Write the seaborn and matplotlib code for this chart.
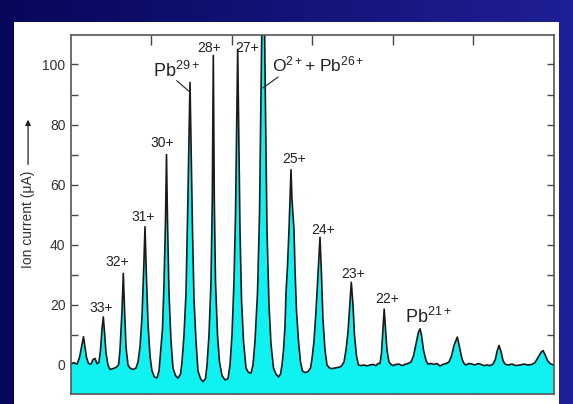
import numpy as np
import seaborn as sns
import matplotlib.pyplot as plt
from matplotlib.patches import Rectangle
from matplotlib.colors import LinearSegmentedColormap

# scan position (arb. units, no labels on this axis) and ion current in uA
scan = [0, 3, 6, 8.5, 10.5, 12.5, 14, 15.5, 17.5, 20, 22, 24, 26, 28, 29.5, 31, 32.3, 33.5, 35, 37,
        39, 42, 45, 47.5, 49, 51, 52.3, 53.5, 55, 57, 59, 62, 65, 67, 69, 71, 72.8, 74, 75.2, 77,
        79, 81, 83.5, 86, 88, 89.5, 91.5, 93, 94.5, 95.5, 96.5, 98, 100, 102, 104.5, 107, 109.5, 111,
        113, 115, 116.5, 118, 119, 120, 121.5, 123, 125, 127, 129.5, 132, 134.5, 136, 138, 140, 141.3,
        142.3, 143.3, 144.5, 146.5, 148.5, 151, 154, 157, 159, 161, 163, 164.5, 165.7, 166.7, 167.7,
        169, 170.5, 172.5, 175, 177.5, 180, 182, 184, 186.5, 188.5, 190, 191.3, 192.3, 193.3, 194.5,
        196, 198, 200, 202.5, 205, 207.5, 209.5, 211, 212.5, 214, 215, 216.5, 218, 219.3, 220, 221,
        223, 224, 225.5, 227.5, 229.5, 231.5, 234, 237, 239.5, 241, 243, 245, 247, 249, 250.5, 252,
        254, 256, 258.5, 261, 264, 267, 270, 273, 275, 277, 278.8, 280.3, 282, 283.5, 285.5, 287.5,
        290, 293, 296, 299, 302, 305, 307, 309, 310.5, 312, 313.2, 314.5, 316, 318, 320, 322, 325,
        328, 331, 334, 337, 340, 342.5, 345, 347.5, 349, 350.5, 352.5, 355, 357, 360, 363, 366, 369,
        372, 375, 378, 380.5, 383, 386.3, 388.5, 391, 393, 395, 398, 401, 404, 407, 410, 413, 416,
        419, 422, 424.5, 426, 428, 430, 432, 434, 437, 441, 445, 449, 453, 457, 461, 464, 467, 470,
        472, 474, 476.5, 479, 482.5]
current = [0.3, 0.8, 0.2, 2.5, 6, 9.4, 6, 2.5, 0.5, 0.3, 1.8, 2.2, 0.4, 1, 5, 12, 16, 11, 4, 0,
           -1.5, -1.2, -0.8, 0, 5, 18, 30.5, 19, 6, 0, -1, -1.5, -1, 1, 6, 16, 33, 46, 32, 14,
           3, -2, -4, -4.3, -2, 4, 12, 27, 48, 70, 48, 24, 8, -1, -3.5, -4.4, -3, 1,
           10, 24, 48, 75, 94, 75, 45, 22, 8, -2, -4.5, -5.6, -4.5, 0, 10, 28, 55,
           103, 55, 28, 10, 1, -3.5, -5, -4.5, 0, 10, 28, 50, 80, 105, 80,
           45, 22, 8, -1, -2.5, -2.7, 0, 8, 24, 50, 90, 125, 130, 120, 85,
           45, 20, 7, -1, -3, -4, -3, 0, 5, 13, 24, 33, 45, 58, 65, 55,
           45, 32, 18, 8, 1, -2, -2.5, -2.2, -1, 2, 8, 18, 30, 42.5, 30, 15,
           5, 0, -1, -1.2, -1, -0.8, -0.5, 1, 5, 11, 20, 27.5, 20, 10, 3, 0,
           -0.2, 0, -0.3, 0, 0.2, -0.2, 0.5, 0.5, 4, 12, 18.6, 12, 5, 1, 0.2, -0.2, 0.2,
           0.3, -0.2, 0.2, 0.5, 1, 3, 7, 11, 12, 10, 5, 1.5, 0.3, 0.5, 0.2, 0.5, -0.3,
           0.2, 0.5, 1, 3, 6.5, 9.3, 6, 2, 0.5, 0, 0.5, 0.3, 0, 0.5, 0.2, -0.2, 0,
           -0.2, 0.3, 2, 4.5, 6.5, 4.5, 1.5, 0.3, 0, 0.3, -0.2, 0, 0.3, 0, 0.2, 0.8, 2.5, 4.2,
           4.8, 3.5, 1.5, 0.5, 0]

# charge-state labels (scan, current)
charge_labels = ["33+", "32+", "31+", "30+", "28+", "27+", "25+", "24+", "23+", "22+"]
charge_x = [30.5, 46.5, 72, 91.5, 138, 176.5, 223, 252, 282.5, 316]
charge_y = [19, 34.3, 49.3, 73.9, 105.5, 105.5, 68.5, 44.9, 30.3, 22]

sns.set_theme(style="ticks")
plt.rcParams["font.family"] = ["Liberation Sans", "DejaVu Sans"]
plt.rcParams["mathtext.fontset"] = "custom"
plt.rcParams["mathtext.rm"] = "Liberation Sans"
plt.rcParams["mathtext.it"] = "Liberation Sans"
plt.rcParams["mathtext.bf"] = "Liberation Sans"

fig = plt.figure(figsize=(5.73, 4.04), dpi=100)

# slide-style navy frame
bg = fig.add_axes([0, 0, 1, 1], zorder=-10)
grad = np.linspace(0, 1, 256).reshape(1, -1)
navy = LinearSegmentedColormap.from_list("navy", ["#07075a", "#1f1f96"])
bg.imshow(grad, cmap=navy, aspect="auto", extent=[0, 1, 0, 1])
bg.add_patch(Rectangle((14 / 573, 0), (559 - 14) / 573, (404 - 22) / 404,
                       facecolor="white", edgecolor="none"))
bg.set_xlim(0, 1)
bg.set_ylim(0, 1)
bg.axis("off")

ax = fig.add_axes([71 / 573, 10 / 404, 482.5 / 573, 359 / 404])
ax.set_facecolor("white")

ax.fill_between(scan, current, -20, color="#10f2f2", lw=0, zorder=1)
sns.lineplot(x=scan, y=current, color="#1a1a1a", lw=1.2, estimator=None, ax=ax, zorder=2)

ax.set_xlim(0, 482.5)
ax.set_ylim(-9.65, 109.8)

ax.set_xticks(np.linspace(0, 482.5, 7)[1:-1])
ax.set_xticklabels([])
ax.set_yticks(np.arange(0, 101, 10))
ax.set_yticklabels([str(v) if v % 20 == 0 else "" for v in range(0, 101, 10)])
ax.tick_params(axis="x", direction="in", length=7.5, width=1, color="#444444",
               top=True, bottom=True)
ax.tick_params(axis="y", direction="in", length=5, width=1, color="#444444",
               left=True, right=True, labelsize=10, labelcolor="#333333", pad=4)
for s in ax.spines.values():
    s.set_color("#555555")
    s.set_linewidth(1.2)

for lab, x, y in zip(charge_labels, charge_x, charge_y):
    ax.text(x, y, lab, ha="center", va="center", fontsize=10, color="#222222")

ax.text(82, 95.8, r"Pb$^{\mathrm{29+}}$", ha="left", va="baseline", fontsize=13, color="#222222")
ax.text(334, 14.0, r"Pb$^{\mathrm{21+}}$", ha="left", va="baseline", fontsize=13, color="#222222")
ax.text(200.7, 97.7, r"O$^{\mathrm{2+}}$+ Pb$^{\mathrm{26+}}$", ha="left", va="baseline",
        fontsize=12.5, color="#222222")
ax.plot([105.7, 119], [94.6, 90.8], color="#333333", lw=0.9)
ax.plot([207, 192], [95.8, 92.2], color="#333333", lw=0.9)

ax.set_ylabel("")
ax.set_xlabel("")
ax.text(-0.089, 0.4875, "Ion current (\u03bcA)", rotation=90, ha="center", va="center",
        transform=ax.transAxes, fontsize=10, color="#333333")
ax.annotate("", xy=(-0.089, 0.772), xytext=(-0.089, 0.632), xycoords="axes fraction",
            arrowprops=dict(arrowstyle="-|>", color="#222222", lw=0.9, mutation_scale=8),
            annotation_clip=False)

fig.savefig("out.png", dpi=100)
